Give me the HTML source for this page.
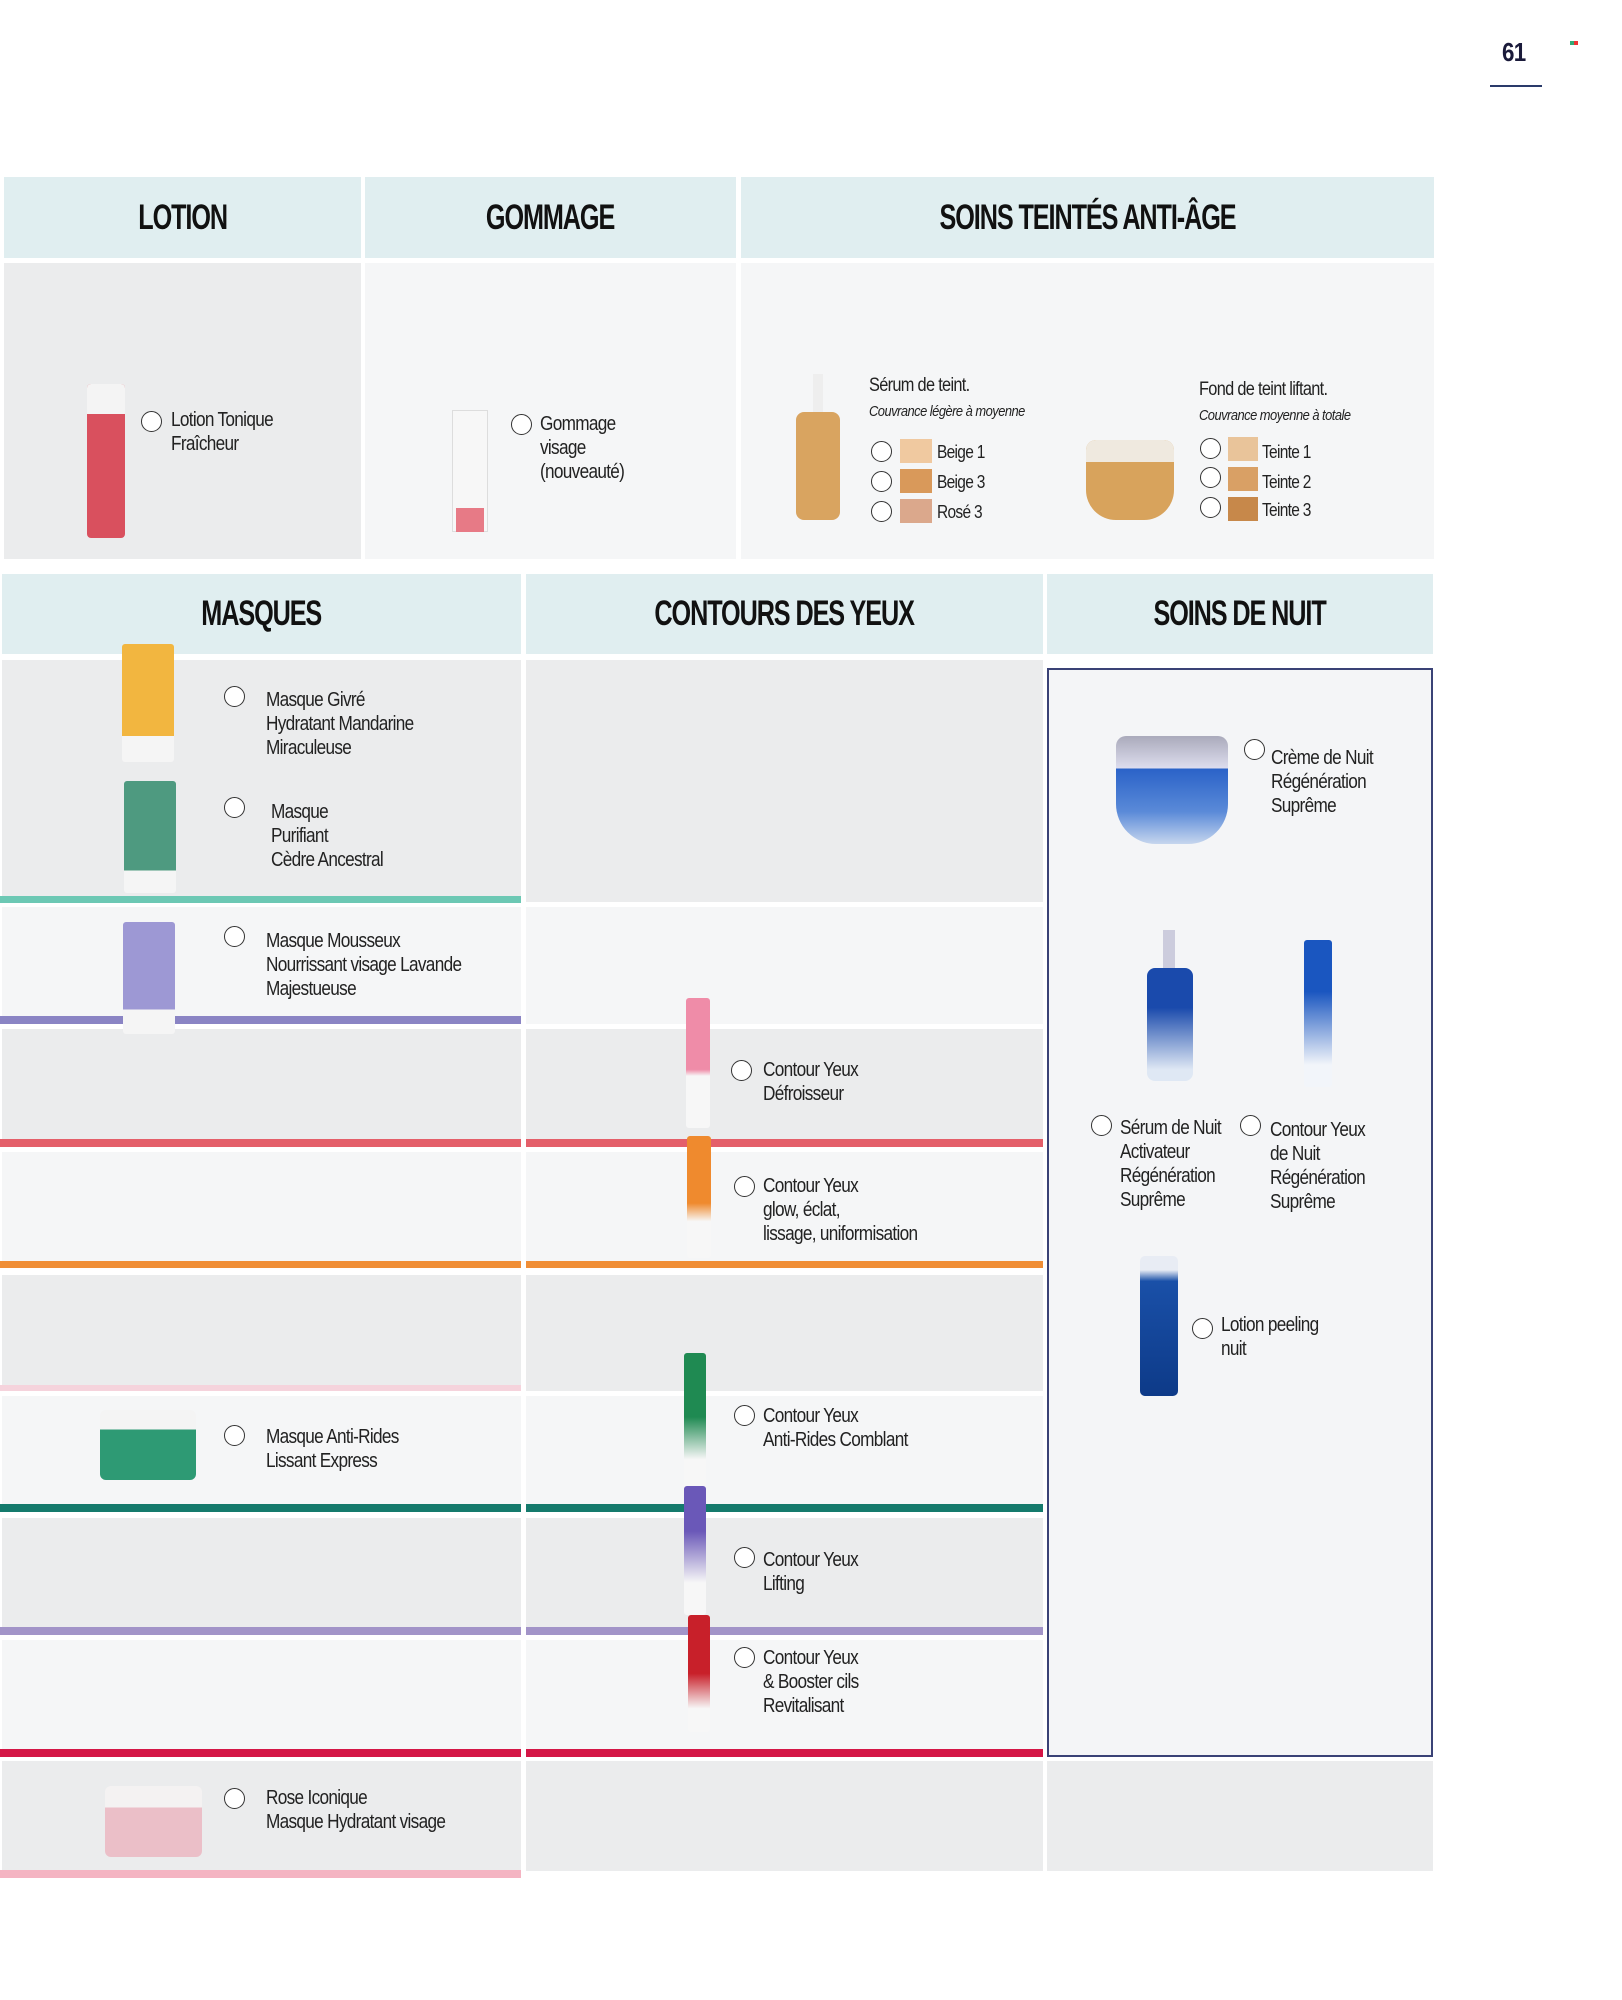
<!DOCTYPE html>
<html><head><meta charset="utf-8"><style>
*{margin:0;padding:0;box-sizing:border-box}
body{width:1622px;height:2000px;background:#fff;position:relative;overflow:hidden;font-family:"Liberation Sans Narrow","Liberation Sans",sans-serif}
div{position:absolute}
.h{background:#e0eef0;display:flex;align-items:center;justify-content:center;font-weight:bold;font-size:35px;color:#111;letter-spacing:-1.5px}
.h span{display:inline-block;transform:scaleX(0.72)}
.g{background:#ebeced}
.l{background:#f5f6f7}
.t{font-size:20px;line-height:24px;color:#222;letter-spacing:-0.8px;white-space:nowrap;transform:scaleX(0.86);transform-origin:left top}
.i{font-style:italic;font-size:15px;letter-spacing:-0.6px}
.r{width:21px;height:21px;border:1.6px solid #333;border-radius:50%;background:#fff}
.sw{width:32px;height:24px}
</style></head><body>
<div class="t" style="left:1502px;top:40px;font-size:26px;font-weight:bold;font-family:'Liberation Sans',sans-serif;color:#1a1a3a">61</div>
<div style="left:1490px;top:85px;width:52px;height:2px;background:#2a3a6a"></div>
<div style="left:1570px;top:41px;width:4px;height:4px;background:#3a7"></div><div style="left:1574px;top:41px;width:4px;height:4px;background:#e33"></div>

<div class="h" style="left:4px;top:177px;width:357px;height:81px"><span>LOTION</span></div>
<div class="h" style="left:365px;top:177px;width:371px;height:81px"><span>GOMMAGE</span></div>
<div class="h" style="left:741px;top:177px;width:693px;height:81px"><span>SOINS TEINTÉS ANTI-ÂGE</span></div>
<div class="g" style="left:4px;top:263px;width:357px;height:296px"></div>
<div class="l" style="left:365px;top:263px;width:371px;height:296px"></div>
<div class="l" style="left:741px;top:263px;width:693px;height:296px"></div>

<div style="left:87px;top:384px;width:38px;height:154px;background:#d9505e;border-radius:4px"></div>
<div style="left:87px;top:384px;width:38px;height:30px;background:#f4f4f4;border-radius:4px 4px 0 0"></div>
<div class="r" style="left:141px;top:411px"></div>
<div class="t" style="left:171px;top:408px">Lotion Tonique<br>Fraîcheur</div>
<div style="left:452px;top:410px;width:36px;height:122px;background:#f7f7f7;border:1px solid #ddd"></div>
<div style="left:456px;top:508px;width:28px;height:24px;background:#e77a86"></div>
<div class="r" style="left:511px;top:414px"></div>
<div class="t" style="left:540px;top:412px">Gommage<br>visage<br>(nouveauté)</div>
<div style="left:813px;top:374px;width:10px;height:40px;background:#eee"></div>
<div style="left:796px;top:412px;width:44px;height:108px;background:#d9a460;border-radius:8px"></div>
<div class="t" style="left:869px;top:374px;font-size:19px">Sérum de teint.</div>
<div class="t i" style="left:869px;top:400px">Couvrance légère à moyenne</div>
<div class="r" style="left:871px;top:441px"></div><div class="sw" style="left:900px;top:439px;background:#f0c9a0"></div><div class="t" style="left:937px;top:440px;font-family:'Liberation Sans',sans-serif;font-size:18px">Beige 1</div>
<div class="r" style="left:871px;top:471px"></div><div class="sw" style="left:900px;top:469px;background:#d9995a"></div><div class="t" style="left:937px;top:470px;font-family:'Liberation Sans',sans-serif;font-size:18px">Beige 3</div>
<div class="r" style="left:871px;top:501px"></div><div class="sw" style="left:900px;top:499px;background:#dba88c"></div><div class="t" style="left:937px;top:500px;font-family:'Liberation Sans',sans-serif;font-size:18px">Rosé 3</div>
<div style="left:1086px;top:440px;width:88px;height:80px;background:#d8a35c;border-radius:10px 10px 30px 30px"></div>
<div style="left:1086px;top:440px;width:88px;height:22px;background:#efe9df;border-radius:10px 10px 0 0"></div>
<div class="t" style="left:1199px;top:378px;font-size:19px">Fond de teint liftant.</div>
<div class="t i" style="left:1199px;top:404px">Couvrance moyenne à totale</div>
<div class="r" style="left:1200px;top:438px"></div><div class="sw" style="left:1228px;top:437px;width:30px;background:#e9c49a"></div><div class="t" style="left:1262px;top:440px;font-family:'Liberation Sans',sans-serif;font-size:18px">Teinte 1</div>
<div class="r" style="left:1200px;top:467px"></div><div class="sw" style="left:1228px;top:467px;width:30px;background:#d9a065"></div><div class="t" style="left:1262px;top:470px;font-family:'Liberation Sans',sans-serif;font-size:18px">Teinte 2</div>
<div class="r" style="left:1200px;top:497px"></div><div class="sw" style="left:1228px;top:497px;width:30px;background:#c7884a"></div><div class="t" style="left:1262px;top:498px;font-family:'Liberation Sans',sans-serif;font-size:18px">Teinte 3</div>

<div class="h" style="left:2px;top:574px;width:519px;height:80px"><span>MASQUES</span></div>
<div class="h" style="left:526px;top:574px;width:517px;height:80px"><span>CONTOURS DES YEUX</span></div>
<div class="h" style="left:1047px;top:574px;width:386px;height:80px"><span>SOINS DE NUIT</span></div>

<div class="g" style="left:2px;top:660px;width:519px;height:236px"></div>
<div style="left:0;top:896px;width:521px;height:7px;background:#6cc8b4"></div>
<div class="l" style="left:2px;top:907px;width:519px;height:109px"></div>
<div style="left:0;top:1016px;width:521px;height:8px;background:#8a84c4"></div>
<div class="g" style="left:2px;top:1029px;width:519px;height:110px"></div>
<div style="left:0;top:1139px;width:521px;height:8px;background:#e45f6a"></div>
<div class="l" style="left:2px;top:1152px;width:519px;height:109px"></div>
<div style="left:0;top:1261px;width:521px;height:7px;background:#f08e36"></div>
<div class="g" style="left:2px;top:1275px;width:519px;height:110px"></div>
<div style="left:0;top:1385px;width:521px;height:6px;background:#f5d3dc"></div>
<div class="l" style="left:2px;top:1396px;width:519px;height:108px"></div>
<div style="left:0;top:1504px;width:521px;height:8px;background:#147a6c"></div>
<div class="g" style="left:2px;top:1518px;width:519px;height:109px"></div>
<div style="left:0;top:1627px;width:521px;height:8px;background:#a294c8"></div>
<div class="l" style="left:2px;top:1640px;width:519px;height:109px"></div>
<div style="left:0;top:1749px;width:521px;height:8px;background:#d41646"></div>
<div class="g" style="left:2px;top:1761px;width:519px;height:110px"></div>
<div style="left:0;top:1870px;width:521px;height:8px;background:#f4b4c2"></div>

<div class="g" style="left:526px;top:660px;width:517px;height:242px"></div>
<div class="l" style="left:526px;top:907px;width:517px;height:117px"></div>
<div class="g" style="left:526px;top:1029px;width:517px;height:110px"></div>
<div style="left:526px;top:1139px;width:517px;height:8px;background:#e45f6a"></div>
<div class="l" style="left:526px;top:1152px;width:517px;height:109px"></div>
<div style="left:526px;top:1261px;width:517px;height:7px;background:#f08e36"></div>
<div class="g" style="left:526px;top:1275px;width:517px;height:116px"></div>
<div class="l" style="left:526px;top:1396px;width:517px;height:108px"></div>
<div style="left:526px;top:1504px;width:517px;height:8px;background:#147a6c"></div>
<div class="g" style="left:526px;top:1518px;width:517px;height:109px"></div>
<div style="left:526px;top:1627px;width:517px;height:8px;background:#a294c8"></div>
<div class="l" style="left:526px;top:1640px;width:517px;height:109px"></div>
<div style="left:526px;top:1749px;width:517px;height:8px;background:#d41646"></div>
<div class="g" style="left:526px;top:1761px;width:517px;height:110px"></div>

<div style="left:1047px;top:668px;width:386px;height:1089px;background:#f4f5f7;border:2px solid #3a4276"></div>
<div class="g" style="left:1047px;top:1761px;width:386px;height:110px"></div>

<div style="left:122px;top:644px;width:52px;height:118px;background:linear-gradient(#f2b640 78%,#f5f5f5 78%);border-radius:3px"></div>
<div class="r" style="left:224px;top:686px"></div>
<div class="t" style="left:266px;top:688px">Masque Givré<br>Hydratant Mandarine<br>Miraculeuse</div>
<div style="left:124px;top:781px;width:52px;height:112px;background:linear-gradient(#4e9a80 80%,#f5f5f5 80%);border-radius:3px"></div>
<div class="r" style="left:224px;top:797px"></div>
<div class="t" style="left:271px;top:800px">Masque<br>Purifiant<br>Cèdre Ancestral</div>
<div style="left:123px;top:922px;width:52px;height:112px;background:linear-gradient(#9d98d4 78%,#f5f5f5 78%);border-radius:3px"></div>
<div class="r" style="left:224px;top:926px"></div>
<div class="t" style="left:266px;top:929px">Masque Mousseux<br>Nourrissant visage Lavande<br>Majestueuse</div>
<div style="left:100px;top:1410px;width:96px;height:70px;background:linear-gradient(#f4f4f4 28%,#2e9a74 28%);border-radius:6px"></div>
<div class="r" style="left:224px;top:1425px"></div>
<div class="t" style="left:266px;top:1425px">Masque Anti-Rides<br>Lissant Express</div>
<div style="left:105px;top:1786px;width:97px;height:71px;background:linear-gradient(#f4f2f2 30%,#ebbfc8 30%);border-radius:6px"></div>
<div class="r" style="left:224px;top:1788px"></div>
<div class="t" style="left:266px;top:1786px">Rose Iconique<br>Masque Hydratant visage</div>

<div style="left:686px;top:998px;width:24px;height:130px;background:linear-gradient(#ef8ca8 55%,#f7f7f7 60%);border-radius:3px"></div>
<div class="r" style="left:731px;top:1060px"></div>
<div class="t" style="left:763px;top:1058px">Contour Yeux<br>Défroisseur</div>
<div style="left:687px;top:1136px;width:24px;height:122px;background:linear-gradient(#ef8a2e 55%,#f7f7f7 70%);border-radius:3px"></div>
<div class="r" style="left:734px;top:1176px"></div>
<div class="t" style="left:763px;top:1174px">Contour Yeux<br>glow, éclat,<br>lissage, uniformisation</div>
<div style="left:684px;top:1353px;width:22px;height:142px;background:linear-gradient(#1f8a52 45%,#f7f7f7 75%);border-radius:3px"></div>
<div class="r" style="left:734px;top:1405px"></div>
<div class="t" style="left:763px;top:1404px">Contour Yeux<br>Anti-Rides Comblant</div>
<div style="left:684px;top:1486px;width:22px;height:129px;background:linear-gradient(#6a58b8 35%,#f7f7f7 75%);border-radius:3px"></div>
<div class="r" style="left:734px;top:1547px"></div>
<div class="t" style="left:763px;top:1548px">Contour Yeux<br>Lifting</div>
<div style="left:688px;top:1615px;width:22px;height:117px;background:linear-gradient(#c8202a 50%,#f7f7f7 80%);border-radius:3px"></div>
<div class="r" style="left:734px;top:1647px"></div>
<div class="t" style="left:763px;top:1646px">Contour Yeux<br>&amp; Booster cils<br>Revitalisant</div>

<div style="left:1116px;top:736px;width:112px;height:108px;background:linear-gradient(#aab 0%,#dde 30%,#2a62c8 30%,#5a8ad8 70%,#c6d6ee 100%);border-radius:10px 10px 40px 40px"></div>
<div class="r" style="left:1244px;top:739px"></div>
<div class="t" style="left:1271px;top:746px">Crème de Nuit<br>Régénération<br>Suprême</div>
<div style="left:1163px;top:930px;width:12px;height:40px;background:#ccd"></div>
<div style="left:1147px;top:968px;width:46px;height:113px;background:linear-gradient(#1a4aac 35%,#dfe8f4 90%);border-radius:8px"></div>
<div style="left:1304px;top:940px;width:28px;height:147px;background:linear-gradient(#1a56c0 35%,#f2f5fa 85%);border-radius:3px"></div>
<div class="r" style="left:1091px;top:1115px"></div>
<div class="t" style="left:1120px;top:1116px">Sérum de Nuit<br>Activateur<br>Régénération<br>Suprême</div>
<div class="r" style="left:1240px;top:1115px"></div>
<div class="t" style="left:1270px;top:1118px">Contour Yeux<br>de Nuit<br>Régénération<br>Suprême</div>
<div style="left:1140px;top:1256px;width:38px;height:140px;background:linear-gradient(#e8ecf4 10%,#1a50a8 18%,#0d3a88 100%);border-radius:5px"></div>
<div class="r" style="left:1192px;top:1318px"></div>
<div class="t" style="left:1221px;top:1313px">Lotion peeling<br>nuit</div>
</body></html>
